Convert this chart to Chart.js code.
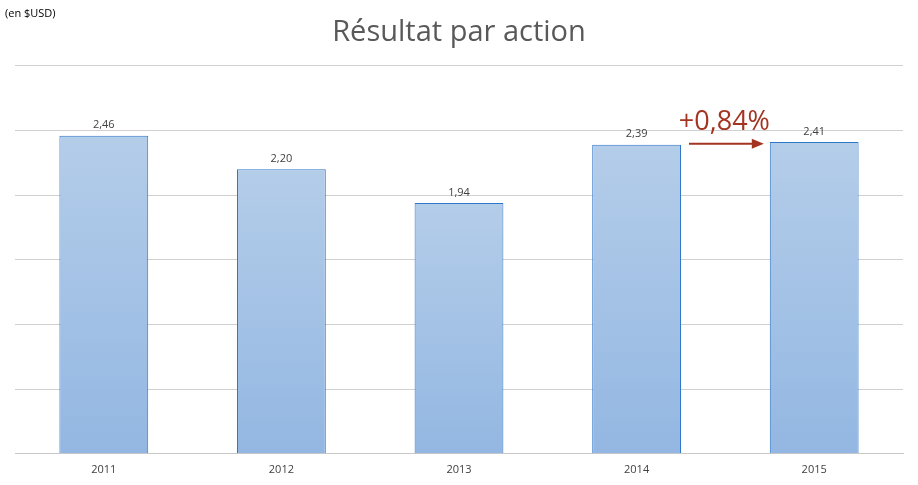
<!DOCTYPE html>
<html>
<head>
<meta charset="utf-8">
<script src="https://cdn.jsdelivr.net/npm/chart.js@4.4.0/dist/chart.umd.min.js"></script>
<style>
  html, body { margin: 0; padding: 0; background: #fff; }
  #wrap { position: relative; width: 918px; height: 485px; }
  #unit { position: absolute; left: 5px; top: 5px; font: 11px "Open Sans", sans-serif; color: #000; }
</style>
</head>
<body>
<div id="wrap">
  <div id="unit">(en $USD)</div>
  <canvas id="myChart" width="918" height="485"></canvas>
</div>
<script>
const annees = ['2011', '2012', '2013', '2014', '2015'];
const resultat = [2.46, 2.20, 1.94, 2.39, 2.41];
const variation = '+0,84%';

// valeurs au format francais
const fmt = v => v.toFixed(2).replace('.', ',');

// degrade par barre, du haut de la barre jusqu'a la base
function degrade(ctx) {
    const chart = ctx.chart;
    if (!chart.chartArea) return '#a4c2e6';
    const y = chart.scales.y;
    const top = y.getPixelForValue(ctx.raw);
    const bottom = y.getPixelForValue(0);
    const g = chart.ctx.createLinearGradient(0, top, 0, bottom);
    g.addColorStop(0, '#b4cde9');
    g.addColorStop(1, '#93b7e2');
    return g;
}

const etiquettes = {
    id: 'etiquettes',
    afterDatasetsDraw(chart) {
        const c = chart.ctx;
        const meta = chart.getDatasetMeta(0);
        c.save();
        c.font = '11px "Open Sans", sans-serif';
        c.fillStyle = '#404040';
        c.textAlign = 'center';
        c.textBaseline = 'bottom';
        meta.data.forEach((bar, i) => {
            c.fillText(fmt(resultat[i]), bar.x, bar.y - 5);
        });

        // fleche entre 2014 et 2015
        const b1 = meta.data[3], b2 = meta.data[4];
        const x1 = b1.x + b1.width / 2 + 8;
        const x2 = b2.x - b2.width / 2 - 6;
        const ya = b1.y - 1;
        c.strokeStyle = '#a33422';
        c.fillStyle = '#a33422';
        c.lineWidth = 2;
        c.beginPath();
        c.moveTo(x1, ya);
        c.lineTo(x2 - 10, ya);
        c.stroke();
        c.beginPath();
        c.moveTo(x2, ya);
        c.lineTo(x2 - 12, ya - 5);
        c.lineTo(x2 - 12, ya + 5);
        c.closePath();
        c.fill();

        c.font = '27px "Open Sans", sans-serif';
        c.fillStyle = '#a33422';
        c.textAlign = 'center';
        c.textBaseline = 'alphabetic';
        c.fillText(variation, (x1 + x2) / 2 - 2, ya - 14);
        c.restore();
    }
};

const config = {
    type: 'bar',
    data: {
        labels: annees,
        datasets: [{
            data: resultat,
            backgroundColor: degrade,
            borderColor: '#2f77c9',
            borderWidth: 1,
            borderSkipped: 'bottom',
            barPercentage: 0.5,
            categoryPercentage: 1
        }]
    },
    options: {
        responsive: false,
        animation: false,
        layout: { padding: { left: 15, right: 15, top: 4, bottom: 8 } },
        plugins: {
            legend: { display: false },
            tooltip: { enabled: false },
            title: {
                display: true,
                text: 'Résultat par action',
                color: '#595959',
                font: { family: '"Open Sans", sans-serif', size: 29, weight: 'normal' },
                padding: { top: 11, bottom: 16 }
            }
        },
        scales: {
            x: {
                grid: { display: false },
                border: { color: '#c8c8c8', width: 1 },
                ticks: { color: '#404040', font: { family: '"Open Sans", sans-serif', size: 11 }, padding: 1 }
            },
            y: {
                min: 0,
                max: 3,
                ticks: { display: false, stepSize: 0.5 },
                grid: { color: '#d0d0d0', drawTicks: false },
                border: { display: false }
            }
        }
    },
    plugins: [etiquettes]
};

new Chart(document.getElementById('myChart'), config);
</script>
</body>
</html>
